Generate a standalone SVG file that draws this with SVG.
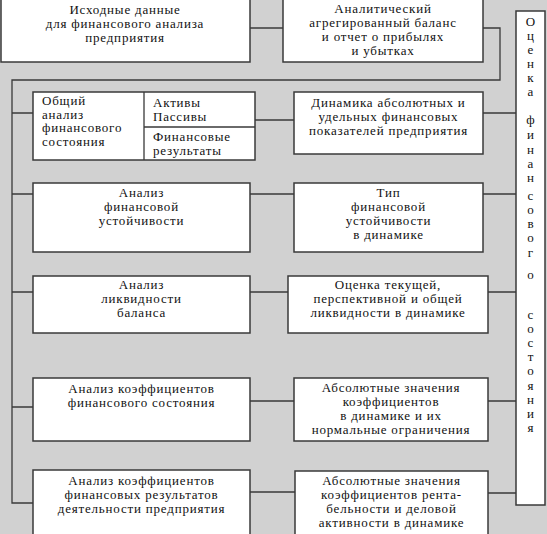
<svg xmlns="http://www.w3.org/2000/svg" width="547" height="534" viewBox="0 0 547 534">
<style>
.bg{fill:#d1d1d1}
.box{fill:#fff;stroke:#3a3a3a;stroke-width:1.5}
.ln{fill:none;stroke:#3a3a3a;stroke-width:1.3}
text{font-family:"Liberation Serif","Times New Roman",serif;font-size:13px;letter-spacing:0.8px;fill:#111}
.c{text-anchor:middle}
.v text{text-anchor:middle;font-size:13px;letter-spacing:0}
</style>
<rect class="bg" x="0" y="0" width="547" height="534"/>
<g id="connectors">
<path class="ln" d="M250 28H283"/>
<path class="ln" d="M483 28H500V80H12V503H33"/>
<path class="ln" d="M12 113H33M255 120H294M483 113H516"/>
<path class="ln" d="M12 194H33M250 194H294M483 194H516"/>
<path class="ln" d="M12 292H33M250 292H288M488 292H516"/>
<path class="ln" d="M12 407H33M250 401H294M488 401H516"/>
<path class="ln" d="M250 492H295M488 493H516"/>
</g>
<g id="n-source">
<rect class="box" x="1" y="-2" width="249" height="64"/>
<text class="c" x="125" y="14">Исходные данные</text>
<text class="c" x="125" y="28">для финансового анализа</text>
<text class="c" x="125" y="42">предприятия</text>
</g>
<g id="n-balance">
<rect class="box" x="283" y="-2" width="200" height="64"/>
<text class="c" x="383" y="13">Аналитический</text>
<text class="c" x="383" y="27">агрегированный баланс</text>
<text class="c" x="383" y="41">и отчет о прибылях</text>
<text class="c" x="383" y="55">и убытках</text>
</g>
<g id="n-general">
<rect class="box" x="33" y="92" width="222" height="68"/>
<path class="ln" d="M144 92V160M144 127H255"/>
<text x="42" y="105">Общий</text>
<text x="42" y="118.5">анализ</text>
<text x="42" y="132">финансового</text>
<text x="42" y="146">состояния</text>
<text x="153" y="107">Активы</text>
<text x="153" y="121">Пассивы</text>
<text x="153" y="141">Финансовые</text>
<text x="153" y="155">результаты</text>
</g>
<g id="n-dynamics">
<rect class="box" x="294" y="92" width="189" height="62"/>
<text class="c" x="388.5" y="107">Динамика абсолютных и</text>
<text class="c" x="388.5" y="121">удельных  финансовых</text>
<text class="c" x="388.5" y="135">показателей предприятия</text>
</g>
<g id="n-stability">
<rect class="box" x="33" y="183" width="217" height="69"/>
<text class="c" x="141.5" y="197">Анализ</text>
<text class="c" x="141.5" y="211">финансовой</text>
<text class="c" x="141.5" y="225">устойчивости</text>
</g>
<g id="n-stability-type">
<rect class="box" x="294" y="183" width="189" height="69"/>
<text class="c" x="388.5" y="197">Тип</text>
<text class="c" x="388.5" y="211">финансовой</text>
<text class="c" x="388.5" y="225">устойчивости</text>
<text class="c" x="388.5" y="239">в динамике</text>
</g>
<g id="n-liquidity">
<rect class="box" x="33" y="276" width="217" height="57"/>
<text class="c" x="141.5" y="289">Анализ</text>
<text class="c" x="141.5" y="303">ликвидности</text>
<text class="c" x="141.5" y="317">баланса</text>
</g>
<g id="n-liquidity-eval">
<rect class="box" x="288" y="276" width="200" height="57"/>
<text class="c" x="388" y="289">Оценка текущей,</text>
<text class="c" x="388" y="303">перспективной и общей</text>
<text class="c" x="388" y="317">ликвидности в динамике</text>
</g>
<g id="n-coef-state">
<rect class="box" x="33" y="378" width="217" height="63"/>
<text class="c" x="141.5" y="393">Анализ коэффициентов</text>
<text class="c" x="141.5" y="407">финансового состояния</text>
</g>
<g id="n-coef-values">
<rect class="box" x="294" y="378" width="194" height="63"/>
<text class="c" x="391" y="392">Абсолютные значения</text>
<text class="c" x="391" y="406">коэффициентов</text>
<text class="c" x="391" y="420">в динамике и их</text>
<text class="c" x="391" y="434">нормальные ограничения</text>
</g>
<g id="n-coef-results">
<rect class="box" x="33" y="470" width="217" height="66"/>
<text class="c" x="141.5" y="485">Анализ коэффициентов</text>
<text class="c" x="141.5" y="499">финансовых результатов</text>
<text class="c" x="141.5" y="513">деятельности предприятия</text>
</g>
<g id="n-profit-values">
<rect class="box" x="295" y="471" width="193" height="66"/>
<text class="c" x="391.5" y="485">Абсолютные значения</text>
<text class="c" x="391.5" y="499">коэффициентов рента-</text>
<text class="c" x="391.5" y="513">бельности и деловой</text>
<text class="c" x="391.5" y="527">активности в динамике</text>
</g>
<g id="n-assessment" class="v">
<rect class="box" x="516" y="11" width="29" height="494"/>
<text x="530.5" y="26">О</text>
<text x="530.5" y="40">ц</text>
<text x="530.5" y="54">е</text>
<text x="530.5" y="68">н</text>
<text x="530.5" y="82">к</text>
<text x="530.5" y="96">а</text>
<text x="530.5" y="124">ф</text>
<text x="530.5" y="139">и</text>
<text x="530.5" y="154">н</text>
<text x="530.5" y="168">а</text>
<text x="530.5" y="182">н</text>
<text x="530.5" y="200">с</text>
<text x="530.5" y="214">о</text>
<text x="530.5" y="228">в</text>
<text x="530.5" y="242">о</text>
<text x="530.5" y="257">г</text>
<text x="530.5" y="279">о</text>
<text x="530.5" y="319">с</text>
<text x="530.5" y="333">о</text>
<text x="530.5" y="347">с</text>
<text x="530.5" y="361">т</text>
<text x="530.5" y="375">о</text>
<text x="530.5" y="390">я</text>
<text x="530.5" y="404">н</text>
<text x="530.5" y="418">и</text>
<text x="530.5" y="432">я</text>
</g>
</svg>
